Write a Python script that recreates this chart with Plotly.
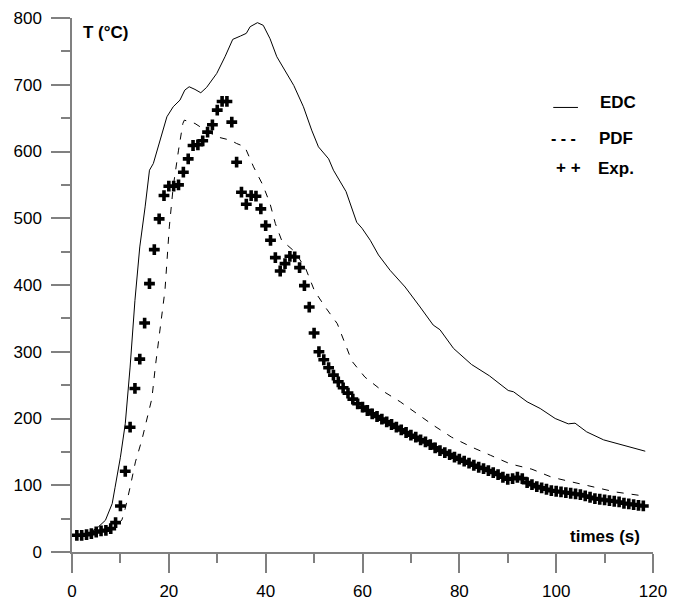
import plotly.graph_objects as go

# ---- data ----
exp_t = list(range(1, 119))
exp_v = [25, 25, 26, 27.5, 30, 31.5, 32.5, 35, 44, 69,
         121, 187, 245, 289, 343, 402, 453, 499, 534, 548,
         548, 550, 569, 589, 609, 610, 616, 629, 640, 662,
         675, 675, 644, 584, 539, 521, 534, 533, 514, 489,
         467, 441, 421, 432, 443, 442, 426, 399, 367, 328,
         300, 288, 276, 265, 255, 246, 238, 229, 222, 217,
         212, 207, 203, 199, 195, 191, 187, 183, 179, 175,
         172, 168, 165, 161, 156, 152, 149, 146, 142, 139,
         136, 133, 130, 127, 125, 122, 119, 116, 112, 109,
         110, 112, 110, 104, 101, 98, 96, 94, 92, 91,
         90, 89, 88, 87, 86, 84, 82, 80, 79, 78,
         77, 76, 75, 73, 72, 71, 70, 69]

edc_t = [1, 3, 4.1, 5.5, 6.9, 8.3, 8.9, 10, 11, 12, 13, 14, 15.1, 16, 16.8,
         18.2, 19.6, 20.9, 22.3, 23.3, 24.2, 25.4, 26.6, 27.8, 29.9, 31.6,
         33.2, 34.8, 36, 36.8, 38.3, 39.5, 40.9, 42.3, 43.7, 45.8, 47.8,
         49.5, 50.9, 53, 54, 55.4, 56.6, 58.8, 59.9, 61.6, 63.3, 65.7, 68.8,
         71.9, 74.6, 76, 78.8, 82.5, 86.2, 90.1, 91.2, 94, 96.7, 99.8,
         102.5, 103.9, 106.3, 109.8, 113.9, 118.4]
edc_v = [25, 27, 31, 38, 47.5, 72.5, 97, 142, 192, 277, 377, 457, 517, 572, 582,
         617, 652, 667, 677, 692, 697, 693, 688, 696, 717, 742,
         768, 773, 777, 787, 793, 789, 769, 742, 724, 699, 667,
         632, 607, 589, 572, 554, 540, 494, 485, 467, 445, 422, 397,
         367, 340, 333, 305, 281, 264, 242, 240, 225, 215, 200,
         192, 193, 180, 168, 160, 151]

pdf_t = [1, 4, 7, 9, 10.3, 11, 12, 13.1, 14.4, 15.8, 16.5, 17.2, 18.2, 18.9,
         19.2, 20.1, 20.9, 22, 22.9, 23.2, 25.4, 27.1, 29.9, 32.7, 34, 35.7,
         37.5, 39.4, 40.9, 42, 43.3, 46, 48.3, 50.1, 52.3, 54.8, 56.4, 57.8,
         60.5, 64, 67.8, 71.2, 74.6, 78.4, 82.6, 86.4, 90.5, 95, 99.1, 103.2,
         107.7, 112.2, 118]
pdf_v = [25, 27, 31, 38, 48, 65, 97, 135, 167, 212, 230, 277, 337, 377,
         392, 487, 547, 602, 642, 647, 642, 634, 622, 617, 612, 607,
         577, 550, 522, 492, 467, 450, 424, 391, 367, 342, 312, 286,
         262, 242, 225, 207, 190, 172, 157, 145, 132, 124, 112, 105,
         97, 90, 84]

FONT = "Arial, Liberation Sans, sans-serif"
AXC = "#808080"

fig = go.Figure()
fig.add_trace(go.Scatter(x=edc_t, y=edc_v, mode="lines",
                         line=dict(color="black", width=1), showlegend=False))
fig.add_trace(go.Scatter(x=pdf_t, y=pdf_v, mode="lines",
                         line=dict(color="black", width=1, dash="7px,8px"),
                         showlegend=False))
fig.add_trace(go.Scatter(x=exp_t, y=exp_v, mode="markers",
                         marker=dict(symbol="cross", size=9, color="black",
                                     line=dict(width=0)),
                         showlegend=False))

axis_common = dict(showline=True, linecolor=AXC, linewidth=1.5,
                   ticks="outside", tickcolor=AXC, tickwidth=1.5, ticklen=19,
                   showgrid=False, zeroline=False, automargin=False,
                   tickfont=dict(family=FONT, size=17, color="black"))

fig.update_xaxes(range=[0, 120], dtick=20, tick0=0,
                 minor=dict(dtick=10, ticks="outside", ticklen=9,
                            tickcolor=AXC, tickwidth=1.5),
                 ticklabelstandoff=4, **axis_common)
fig.update_yaxes(range=[0, 800], dtick=100, tick0=0,
                 minor=dict(dtick=50, ticks="outside", ticklen=9,
                            tickcolor=AXC, tickwidth=1.5),
                 ticklabelstandoff=6, **axis_common)

ann = []
def txt(x, y, s, xanchor="left", size=17, bold=True):
    ann.append(dict(x=x, y=y, xref="x", yref="y", text=("<b>%s</b>" % s) if bold else s,
                    showarrow=False, xanchor=xanchor, yanchor="middle",
                    font=dict(family=FONT, size=size, color="black")))

txt(7.0, 779, "T (°C)", xanchor="center")
txt(117.8, 23, "times (s)", xanchor="right")
txt(108.6, 673, "EDC")
txt(108.4, 620, "PDF")
txt(108.2, 575, "Exp.")
txt(101.6, 619, "- - -", xanchor="center", size=16, bold=True)
txt(102.5, 576, "+ +", xanchor="center", size=17)

fig.add_shape(type="line", xref="x", yref="y", x0=99.4, x1=104.5, y0=666, y1=666,
              line=dict(color="black", width=1))

fig.update_layout(width=683, height=601,
                  margin=dict(l=72, r=30, t=18, b=49),
                  plot_bgcolor="white", paper_bgcolor="white",
                  annotations=ann, showlegend=False)

fig.write_html("out.html", config={"displayModeBar": False},
               post_script="document.body.style.margin='0';document.body.style.overflow='hidden';")
